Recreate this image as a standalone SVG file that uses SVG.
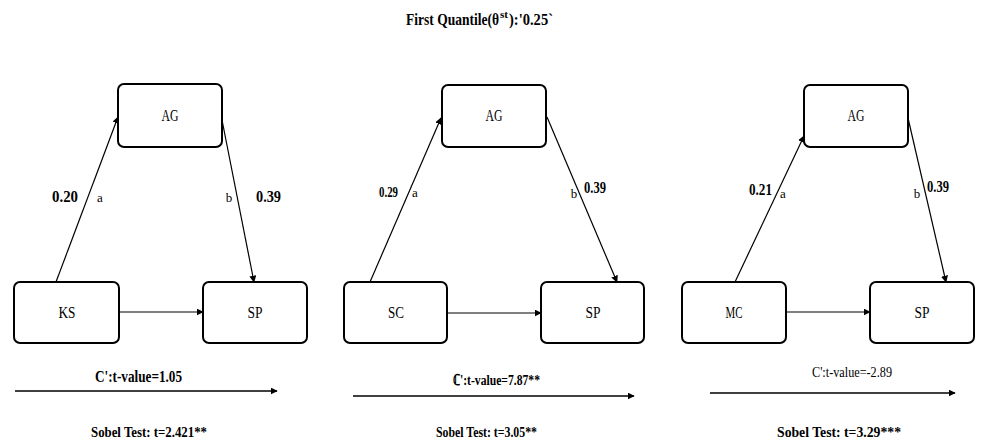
<svg xmlns="http://www.w3.org/2000/svg" width="982" height="443" viewBox="0 0 982 443" font-family="'Liberation Serif', 'Times New Roman', serif">
<defs>
<style>
text{font-family:'Liberation Serif','Times New Roman',serif;fill:#000}
.box{fill:#fff;stroke:#000;stroke-width:2}
.lbl{font-size:16px;text-anchor:middle}
.coef{font-weight:bold}
.ab{font-size:13px;text-anchor:middle}
.bold{font-weight:bold}
.ln{stroke:#000;stroke-width:1.2;fill:none;marker-end:url(#ah)}
.ln2{stroke:#000;stroke-width:1.5;fill:none;marker-end:url(#ah)}
</style>
<marker id="ah" viewBox="0 0 10 10" refX="9" refY="5" markerWidth="7" markerHeight="7" markerUnits="userSpaceOnUse" orient="auto"><path d="M0,0 L10,5 L0,10 z" fill="#000"/></marker>
</defs>
<rect width="982" height="443" fill="#fff"/>
<g id="title">
<text class="bold" x="406" y="25" font-size="17" textLength="93" lengthAdjust="spacingAndGlyphs">First Quantile(θ</text>
<text class="bold" x="500" y="18" font-size="10" textLength="8" lengthAdjust="spacingAndGlyphs">st</text>
<text class="bold" x="509" y="25" font-size="17" textLength="44" lengthAdjust="spacingAndGlyphs">):'0.25`</text>
</g>

<g id="connectors">
<line class="ln" x1="56" y1="282" x2="118" y2="117"/>
<line class="ln" x1="222" y1="120" x2="254" y2="282"/>
<line class="ln" x1="119" y1="312" x2="203" y2="312"/>
<line class="ln2" x1="15" y1="391" x2="277" y2="391"/>
<line class="ln" x1="370" y1="282" x2="441" y2="118"/>
<line class="ln" x1="547" y1="117" x2="617" y2="282"/>
<line class="ln" x1="447" y1="313" x2="541" y2="313"/>
<line class="ln2" x1="353" y1="396" x2="634" y2="396"/>
<line class="ln" x1="735" y1="282" x2="804" y2="136"/>
<line class="ln" x1="908" y1="118" x2="946" y2="282"/>
<line class="ln" x1="786" y1="312" x2="870" y2="312"/>
<line class="ln2" x1="710" y1="393" x2="955" y2="393"/>
</g>

<g id="p1-AG"><rect class="box" x="118" y="84" width="104" height="63" rx="6"/><text class="lbl" x="170" y="121" textLength="17" lengthAdjust="spacingAndGlyphs">AG</text></g>
<g id="p1-KS"><rect class="box" x="14" y="282" width="105" height="61" rx="6"/><text class="lbl" x="67" y="318" textLength="17" lengthAdjust="spacingAndGlyphs">KS</text></g>
<g id="p1-SP"><rect class="box" x="203" y="282" width="104" height="61" rx="6"/><text class="lbl" x="255" y="318" textLength="15" lengthAdjust="spacingAndGlyphs">SP</text></g>
<g id="p1-labels">
<text class="coef" x="52" y="202" font-size="17" textLength="26" lengthAdjust="spacingAndGlyphs">0.20</text>
<text class="ab" x="100" y="202">a</text>
<text class="ab" x="229" y="202">b</text>
<text class="coef" x="256" y="202" font-size="17" textLength="25" lengthAdjust="spacingAndGlyphs">0.39</text>
<text class="bold" x="95" y="382" font-size="16" textLength="87" lengthAdjust="spacingAndGlyphs">C':t-value=1.05</text>
<text class="bold" x="91" y="437" font-size="15" textLength="116" lengthAdjust="spacingAndGlyphs">Sobel Test: t=2.421**</text>
</g>

<g id="p2-AG"><rect class="box" x="442" y="85" width="104" height="62" rx="6"/><text class="lbl" x="494" y="121" textLength="17" lengthAdjust="spacingAndGlyphs">AG</text></g>
<g id="p2-SC"><rect class="box" x="344" y="282" width="103" height="61" rx="6"/><text class="lbl" x="396" y="318" textLength="16" lengthAdjust="spacingAndGlyphs">SC</text></g>
<g id="p2-SP"><rect class="box" x="541" y="282" width="103" height="61" rx="6"/><text class="lbl" x="593" y="318" textLength="15" lengthAdjust="spacingAndGlyphs">SP</text></g>
<g id="p2-labels">
<text class="coef" x="379" y="197" font-size="15" textLength="19" lengthAdjust="spacingAndGlyphs">0.29</text>
<text class="ab" x="415" y="197">a</text>
<text class="ab" x="574" y="198">b</text>
<text class="coef" x="584" y="193" font-size="16" textLength="22" lengthAdjust="spacingAndGlyphs">0.39</text>
<text class="bold" x="453" y="385" font-size="15" textLength="87" lengthAdjust="spacingAndGlyphs">ℂ':t-value=7.87**</text>
<text class="bold" x="436" y="437" font-size="15" textLength="101" lengthAdjust="spacingAndGlyphs">Sobel Test: t=3.05**</text>
</g>

<g id="p3-AG"><rect class="box" x="804" y="85" width="104" height="62" rx="6"/><text class="lbl" x="856" y="121" textLength="17" lengthAdjust="spacingAndGlyphs">AG</text></g>
<g id="p3-MC"><rect class="box" x="682" y="282" width="104" height="61" rx="6"/><text class="lbl" x="734" y="318" textLength="17" lengthAdjust="spacingAndGlyphs">MC</text></g>
<g id="p3-SP"><rect class="box" x="870" y="282" width="104" height="61" rx="6"/><text class="lbl" x="922" y="318" textLength="15" lengthAdjust="spacingAndGlyphs">SP</text></g>
<g id="p3-labels">
<text class="coef" x="749" y="195" font-size="16" textLength="23" lengthAdjust="spacingAndGlyphs">0.21</text>
<text class="ab" x="783" y="198">a</text>
<text class="ab" x="917" y="198">b</text>
<text class="coef" x="927" y="192" font-size="16" textLength="22" lengthAdjust="spacingAndGlyphs">0.39</text>
<text x="812" y="377" font-size="15" textLength="80" lengthAdjust="spacingAndGlyphs">C':t-value=-2.89</text>
<text class="bold" x="777" y="437" font-size="15" textLength="124" lengthAdjust="spacingAndGlyphs">Sobel Test: t=3.29***</text>
</g>
</svg>
